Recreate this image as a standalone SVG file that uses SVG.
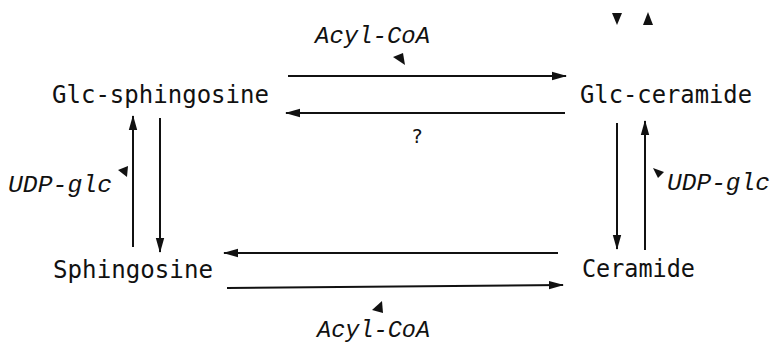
<svg xmlns="http://www.w3.org/2000/svg" width="772" height="343" viewBox="0 0 772 343">
  <defs>
    <marker id="head" viewBox="0 0 15 10" refX="14" refY="5" markerWidth="15" markerHeight="10" markerUnits="userSpaceOnUse" orient="auto">
      <path d="M0,0.8 L15,5 L0,9.2 Z" fill="#111"/>
    </marker>
  </defs>
  <style>
    .node { font-family: "DejaVu Sans Mono", "Liberation Mono", monospace; font-size: 25px; fill: #111; }
    .cof { font-family: "Liberation Mono", "DejaVu Sans Mono", monospace; font-style: italic; font-size: 24px; fill: #111; }
    .q { font-family: "DejaVu Sans Mono", monospace; font-size: 20px; fill: #111; }
    .edge { stroke: #111; stroke-width: 2; fill: none; marker-end: url(#head); }
    .tick { fill: #111; }
  </style>
  <rect width="772" height="343" fill="#fff"/>

  <g id="glc-sphingosine"><text class="node" x="52" y="103" textLength="217" lengthAdjust="spacingAndGlyphs">Glc-sphingosine</text></g>
  <g id="glc-ceramide"><text class="node" x="580" y="103" textLength="172" lengthAdjust="spacingAndGlyphs">Glc-ceramide</text></g>
  <g id="sphingosine"><text class="node" x="53" y="278" textLength="160" lengthAdjust="spacingAndGlyphs">Sphingosine</text></g>
  <g id="ceramide"><text class="node" x="582" y="277" textLength="113" lengthAdjust="spacingAndGlyphs">Ceramide</text></g>

  <g id="connectors">
    <!-- top pair -->
    <line class="edge" x1="288" y1="76" x2="566" y2="76"/>
    <line class="edge" x1="565" y1="113" x2="286" y2="113"/>
    <!-- left pair -->
    <line class="edge" x1="133" y1="247" x2="133" y2="116"/>
    <line class="edge" x1="160" y1="118" x2="160" y2="252"/>
    <!-- right pair -->
    <line class="edge" x1="617" y1="123" x2="617" y2="249"/>
    <line class="edge" x1="645" y1="250" x2="645" y2="121"/>
    <!-- bottom pair -->
    <line class="edge" x1="558" y1="253" x2="224" y2="253"/>
    <line class="edge" x1="227" y1="288" x2="563" y2="285"/>
  </g>

  <g id="labels">
    <text class="cof" x="315" y="43" textLength="115" lengthAdjust="spacingAndGlyphs">Acyl-CoA</text>
    <polygon class="tick" points="393,57 403,53 405,65"/>
    <text class="q" x="411" y="143">?</text>

    <text class="cof" x="8" y="192" textLength="104" lengthAdjust="spacingAndGlyphs">UDP-glc</text>
    <polygon class="tick" points="118,170 128,166 127,177"/>

    <text class="cof" x="667" y="190" textLength="103" lengthAdjust="spacingAndGlyphs">UDP-glc</text>
    <polygon class="tick" points="653,168 664,172 658,178"/>

    <text class="cof" x="317" y="337" textLength="113" lengthAdjust="spacingAndGlyphs">Acyl-CoA</text>
    <polygon class="tick" points="372,310 382,301 383,313"/>

    <polygon class="tick" points="612,13 622,13 617,25"/>
    <polygon class="tick" points="643,25 653,25 648,12"/>
  </g>
</svg>
